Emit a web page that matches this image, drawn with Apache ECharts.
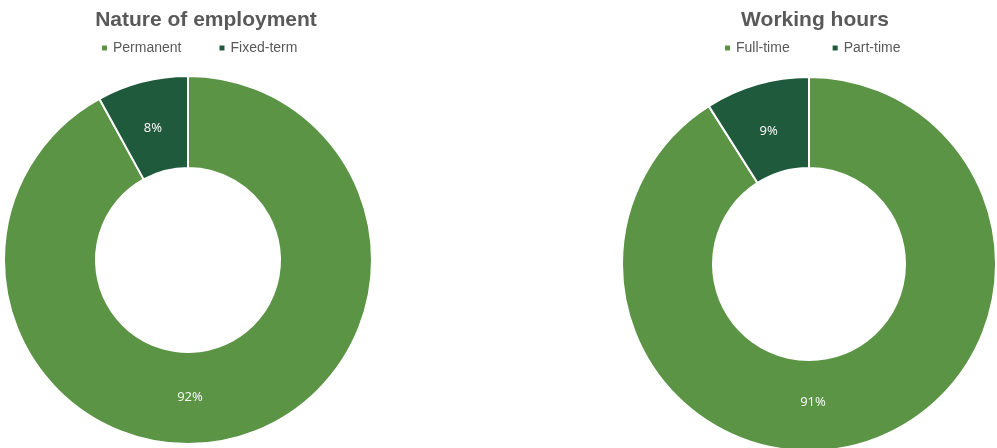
<!DOCTYPE html>
<html>
<head>
<meta charset="utf-8">
<script src="https://cdn.jsdelivr.net/npm/echarts@6/dist/echarts.min.js"></script>
<style>
  html, body { margin: 0; padding: 0; background: #fff; }
  #chart { width: 997px; height: 448px; }
</style>
</head>
<body>
<div id="chart"></div>
<script>
// chart titles
const titles = ['Nature of employment', 'Working hours'];

// nature of employment (%)
const employmentCats = ['Permanent', 'Fixed-term'];
const employmentVals = [92, 8];

// working hours (%)
const hoursCats = ['Full-time', 'Part-time'];
const hoursVals = [91, 9];

const lightGreen = '#5a9444';
const darkGreen = '#1e5a3b';
const greyText = '#595959';
const fontFamily = 'Liberation Sans, Arial, sans-serif';

const chart = echarts.init(document.getElementById('chart'));

function pieSeries(cats, vals, center, radius, nudge) {
    const midR = (radius[0] + radius[1]) / 2;
    return {
        type: 'pie',
        center: center,
        radius: radius,
        startAngle: 90,
        clockwise: true,
        silent: true,
        itemStyle: { borderColor: '#fff', borderWidth: 2 },
        label: {
            position: 'inside',
            formatter: '{c}%',
            color: '#f4f4f4',
            fontSize: 13,
            fontFamily: 'Noto Sans, sans-serif'
        },
        // Excel drops the big slice's label straight below the hole
        labelLayout: function (params) {
            if (params.dataIndex !== 0) return { dy: nudge[2] };
            return {
                x: center[0] + nudge[0],
                y: center[1] + midR + nudge[1],
                align: 'center',
                verticalAlign: 'middle'
            };
        },
        labelLine: { show: false },
        data: cats.map((c, i) => ({
            name: c,
            value: vals[i],
            itemStyle: { color: i === 0 ? lightGreen : darkGreen }
        }))
    };
}

const option = {
    animation: false,
    title: [
        {
            text: titles[0], left: 201, top: 5, textAlign: 'center',
            textStyle: { color: greyText, fontSize: 21, fontWeight: 'bold', fontFamily: fontFamily }
        },
        {
            text: titles[1], left: 810, top: 5, textAlign: 'center',
            textStyle: { color: greyText, fontSize: 21, fontWeight: 'bold', fontFamily: fontFamily }
        }
    ],
    legend: [
        {
            data: employmentCats, left: 95, top: 36, icon: 'rect',
            itemWidth: 7, itemHeight: 7, itemGap: 36,
            textStyle: { color: greyText, fontSize: 14, fontFamily: fontFamily }
        },
        {
            data: hoursCats, left: 718, top: 36, icon: 'rect',
            itemWidth: 7, itemHeight: 7, itemGap: 41,
            textStyle: { color: greyText, fontSize: 14, fontFamily: fontFamily }
        }
    ],
    series: [
        pieSeries(employmentCats, employmentVals, [188, 260], [92, 184], [2, -1, 5]),
        pieSeries(hoursCats, hoursVals, [809, 264], [96, 187], [4, -3, 6])
    ]
};

chart.setOption(option);
</script>
</body>
</html>
